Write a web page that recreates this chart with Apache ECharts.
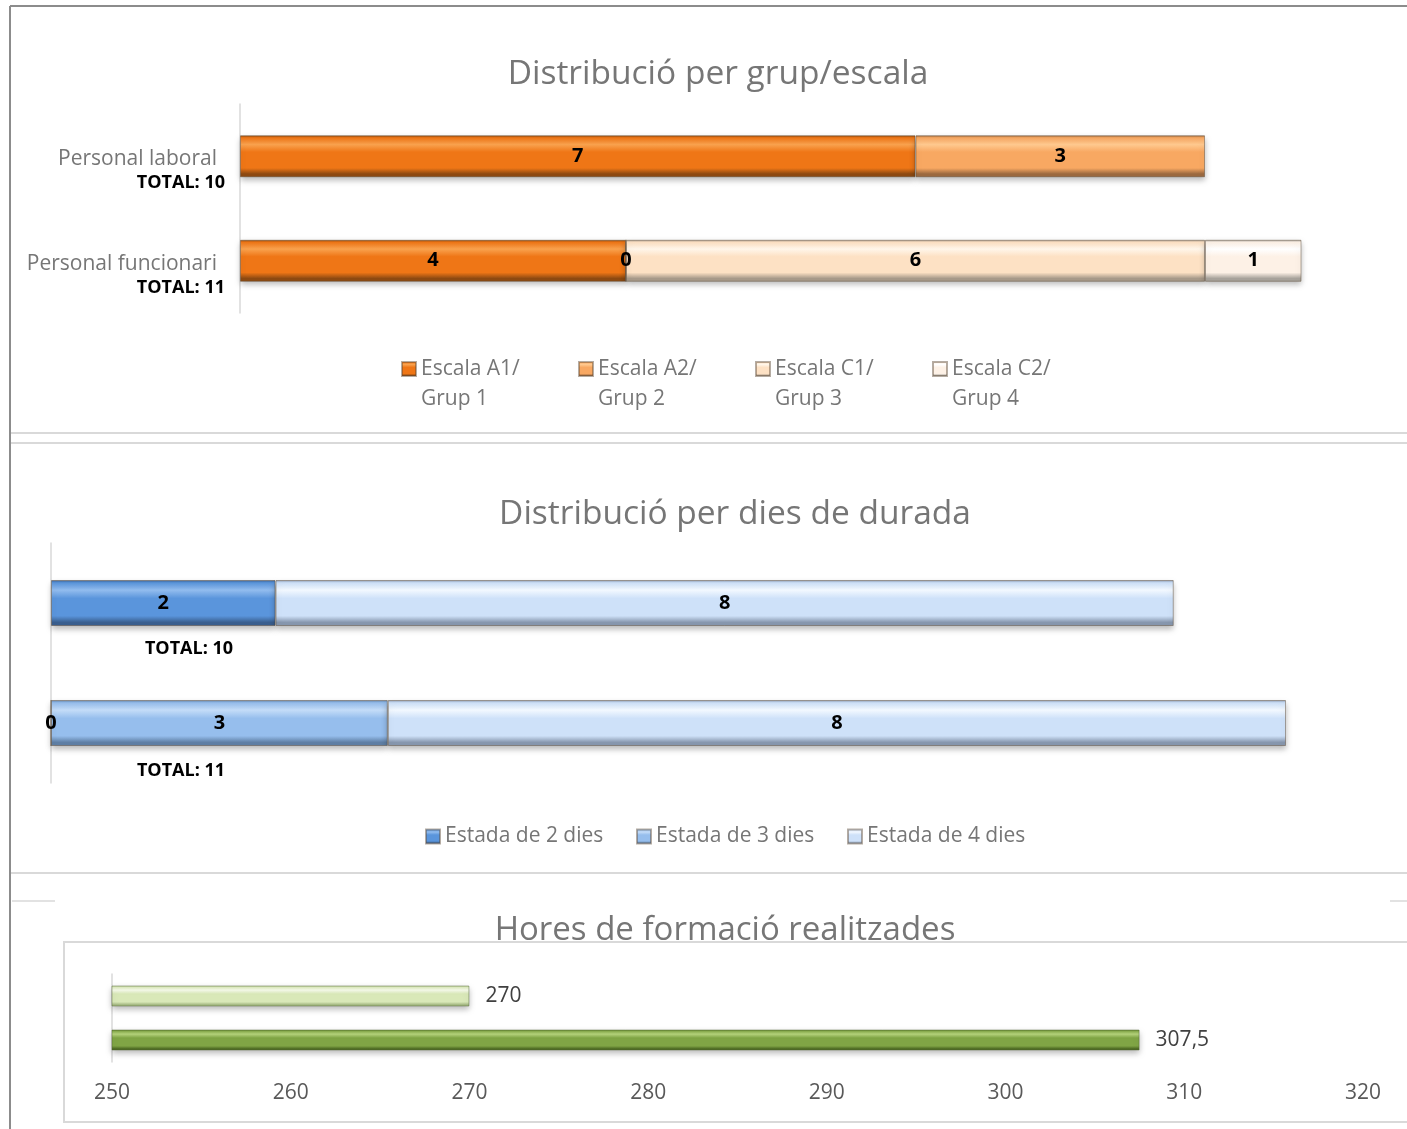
<!DOCTYPE html>
<html>
<head>
<meta charset="utf-8">
<script src="https://cdn.jsdelivr.net/npm/echarts@6/dist/echarts.min.js"></script>
<style>
  html, body { margin: 0; padding: 0; background: #ffffff; }
  #chart { width: 1407px; height: 1129px; }
</style>
</head>
<body>
<div id="chart"></div>
<script>
// ---- Distribució per grup/escala ----
const groupCategories = ['Personal laboral', 'Personal funcionari'];
const groupTotals = ['TOTAL: 10', 'TOTAL: 11'];
const groupSeriesNames = ['Escala A1/Grup 1', 'Escala A2/Grup 2', 'Escala C1/Grup 3', 'Escala C2/Grup 4'];
const escalaA1 = [7, 4];
const escalaA2 = [3, 0];
const escalaC1 = ['-', 6];
const escalaC2 = ['-', 1];

// ---- Distribució per dies de durada ----
const durationCategories = ['Personal laboral', 'Personal funcionari'];
const durationTotals = ['TOTAL: 10', 'TOTAL: 11'];
const durationSeriesNames = ['Estada de 2 dies', 'Estada de 3 dies', 'Estada de 4 dies'];
const estada2 = [2, 0];
const estada3 = ['-', 3];
const estada4 = [8, 8];

// ---- Hores de formació realitzades ----
const hoursCategories = ['Personal laboral', 'Personal funcionari'];
const hoursValues = [270, 307.5];
const hoursTicks = [250, 320, 10]; // min, max, interval

const FONT = '"Open Sans", "Noto Sans", sans-serif';
const GREY = '#767676';

// vertical gradient giving the bars a bevelled, raised look
function bevel(top, mid, bottom) {
  return new echarts.graphic.LinearGradient(0, 0, 0, 1, [
    { offset: 0, color: bottom },
    { offset: 0.06, color: mid },
    { offset: 0.22, color: top },
    { offset: 0.4, color: mid },
    { offset: 0.78, color: mid },
    { offset: 0.92, color: bottom },
    { offset: 1, color: bottom }
  ]);
}

const palette = {
  a1: bevel('#F9A24E', '#EF7616', '#8E4A12'),
  a2: bevel('#FFC98F', '#F8A862', '#9C6A40'),
  c1: bevel('#FFF6EA', '#FDE1C4', '#A89A8A'),
  c2: bevel('#FFFFFF', '#FDF1E6', '#A8A39C'),
  b2: bevel('#92BCEE', '#5A95DC', '#3A5F8F'),
  b3: bevel('#C4DCF8', '#96BEED', '#5F7FA5'),
  b4: bevel('#F2F8FF', '#CEE1F9', '#8797AE'),
  g1: bevel('#F6FAEA', '#D9E8B8', '#A4B882'),
  g2: bevel('#B6D47C', '#80A545', '#4E6B24')
};

const shadow = {
  shadowColor: 'rgba(0,0,0,0.28)',
  shadowBlur: 6,
  shadowOffsetY: 3,
  borderColor: 'rgba(90,70,50,0.45)',
  borderWidth: 1
};

const valueLabel = {
  show: true,
  position: 'inside',
  color: '#000000',
  fontFamily: FONT,
  fontWeight: 'bold',
  fontSize: 20
};

function stackBar(name, data, color, axisIndex, width, stack) {
  return {
    name: name,
    type: 'bar',
    stack: stack,
    xAxisIndex: axisIndex,
    yAxisIndex: axisIndex,
    barWidth: width,
    data: data,
    itemStyle: Object.assign({ color: color }, shadow),
    label: valueLabel,
    emphasis: { disabled: true }
  };
}

const titleText = size => ({ fontFamily: FONT, fontSize: size, fontWeight: 'normal', color: GREY, lineHeight: 44 });

const option = {
  animation: false,
  textStyle: { fontFamily: FONT },
  title: [
    { text: 'Distribució per grup/escala', left: 713, top: 47, textAlign: 'center', textStyle: titleText(33.5) },
    { text: 'Distribució per dies de durada', left: 730, top: 487, textAlign: 'center', textStyle: titleText(33.5) },
    { text: 'Hores de formació realitzades', left: 720, top: 904, textAlign: 'center', textStyle: titleText(33) }
  ],
  legend: [
    {
      data: groupSeriesNames,
      left: 396, top: 329,
      itemWidth: 14, itemHeight: 14, itemGap: 7,
      icon: 'rect',
      // a blank spacer line keeps the marker level with the first text line
      formatter: n => '{s| }\n{a|' + n.replace('/', '/}\n{a|') + '}',
      textStyle: {
        rich: {
          s: { fontSize: 10, lineHeight: 30 },
          a: { fontFamily: FONT, fontSize: 21, color: GREY, lineHeight: 30, width: 150 }
        }
      }
    },
    {
      data: durationSeriesNames,
      left: 420, top: 821,
      itemWidth: 14, itemHeight: 14, itemGap: 11,
      icon: 'rect',
      formatter: n => '{a|' + n + '}',
      textStyle: {
        rich: {
          a: { fontFamily: FONT, fontSize: 21, color: GREY, lineHeight: 26, width: 180 }
        }
      }
    }
  ],
  grid: [
    { left: 240, top: 104, width: 1061.5, height: 209 },
    { left: 51, top: 543, width: 1235, height: 240 },
    { left: 112, top: 974, width: 1251, height: 88 }
  ],
  xAxis: [
    { type: 'value', gridIndex: 0, min: 0, max: 11, show: false },
    { type: 'value', gridIndex: 1, min: 0, max: 11, show: false },
    {
      type: 'value', gridIndex: 2, min: hoursTicks[0], max: hoursTicks[1], interval: hoursTicks[2],
      axisLine: { show: false }, axisTick: { show: false }, splitLine: { show: false },
      axisLabel: { color: '#595959', fontFamily: FONT, fontSize: 21, margin: 21 }
    }
  ],
  yAxis: [
    {
      type: 'category', gridIndex: 0, inverse: true, data: groupCategories,
      axisLine: { lineStyle: { color: '#d9d9d9', width: 1.5 } },
      axisTick: { show: false },
      axisLabel: {
        margin: 15,
        align: 'right',
        padding: [30, 0, 0, 0],
        formatter: (v, i) => '{n|' + v + '}\n{t|' + groupTotals[i] + '}',
        rich: {
          n: { fontFamily: FONT, fontSize: 21, color: GREY, lineHeight: 24, padding: [0, 8, 0, 0] },
          t: { fontFamily: FONT, fontSize: 18, fontWeight: 'bold', color: '#000000', lineHeight: 24 }
        }
      }
    },
    {
      type: 'category', gridIndex: 1, inverse: true, data: durationCategories,
      axisLine: { lineStyle: { color: '#d9d9d9', width: 1.5 } },
      axisTick: { show: false },
      axisLabel: {
        inside: true,
        margin: 134,
        align: 'center',
        padding: [92, 0, 0, 0],
        formatter: (v, i) => '{t' + i + '|' + durationTotals[i] + '}',
        rich: {
          t0: { fontFamily: FONT, fontSize: 18, fontWeight: 'bold', color: '#000000', padding: [0, 0, 0, 8] },
          t1: { fontFamily: FONT, fontSize: 18, fontWeight: 'bold', color: '#000000', padding: [4, 8, 0, 0] }
        }
      }
    },
    {
      type: 'category', gridIndex: 2, inverse: true, data: hoursCategories,
      axisLine: { lineStyle: { color: '#d9d9d9', width: 1.5 } },
      axisTick: { show: false },
      axisLabel: { show: false }
    }
  ],
  series: [
    stackBar(groupSeriesNames[0], escalaA1, palette.a1, 0, 42, 'grup'),
    stackBar(groupSeriesNames[1], escalaA2, palette.a2, 0, 42, 'grup'),
    stackBar(groupSeriesNames[2], escalaC1, palette.c1, 0, 42, 'grup'),
    stackBar(groupSeriesNames[3], escalaC2, palette.c2, 0, 42, 'grup'),
    stackBar(durationSeriesNames[0], estada2, palette.b2, 1, 46, 'dies'),
    stackBar(durationSeriesNames[1], estada3, palette.b3, 1, 46, 'dies'),
    stackBar(durationSeriesNames[2], estada4, palette.b4, 1, 46, 'dies'),
    {
      name: 'Hores',
      type: 'bar',
      xAxisIndex: 2,
      yAxisIndex: 2,
      barWidth: 21,
      data: hoursValues.map((v, i) => ({
        value: v,
        itemStyle: Object.assign({ color: i === 0 ? palette.g1 : palette.g2 }, shadow, { borderColor: 'rgba(80,100,50,0.45)' })
      })),
      label: {
        show: true,
        position: 'right',
        distance: 16,
        color: '#404040',
        fontFamily: FONT,
        fontSize: 21,
        formatter: p => String(p.value).replace('.', ',')
      },
      emphasis: { disabled: true }
    }
  ],
  graphic: [
    // outer frame
    { type: 'line', shape: { x1: 10, y1: 6, x2: 1407, y2: 6 }, style: { stroke: '#8c8c8c', lineWidth: 2 }, silent: true },
    { type: 'line', shape: { x1: 10, y1: 6, x2: 10, y2: 1129 }, style: { stroke: '#8c8c8c', lineWidth: 2 }, silent: true },
    // panel separators
    { type: 'line', shape: { x1: 11, y1: 433, x2: 1407, y2: 433 }, style: { stroke: '#d9d9d9', lineWidth: 2 }, silent: true },
    { type: 'line', shape: { x1: 11, y1: 443, x2: 1407, y2: 443 }, style: { stroke: '#d9d9d9', lineWidth: 2 }, silent: true },
    { type: 'line', shape: { x1: 11, y1: 873, x2: 1407, y2: 873 }, style: { stroke: '#d9d9d9', lineWidth: 2 }, silent: true },
    { type: 'line', shape: { x1: 12, y1: 901, x2: 55, y2: 901 }, style: { stroke: '#d9d9d9', lineWidth: 1.5 }, silent: true },
    { type: 'line', shape: { x1: 1390, y1: 901, x2: 1407, y2: 901 }, style: { stroke: '#d9d9d9', lineWidth: 1.5 }, silent: true },
    // plot box of the hours chart
    { type: 'rect', shape: { x: 64, y: 942, width: 1360, height: 180 }, style: { fill: 'none', stroke: '#d9d9d9', lineWidth: 2 }, silent: true, z: -1 }
  ]
};

const chart = echarts.init(document.getElementById('chart'), null, { renderer: 'canvas' });
chart.setOption(option);
</script>
</body>
</html>
